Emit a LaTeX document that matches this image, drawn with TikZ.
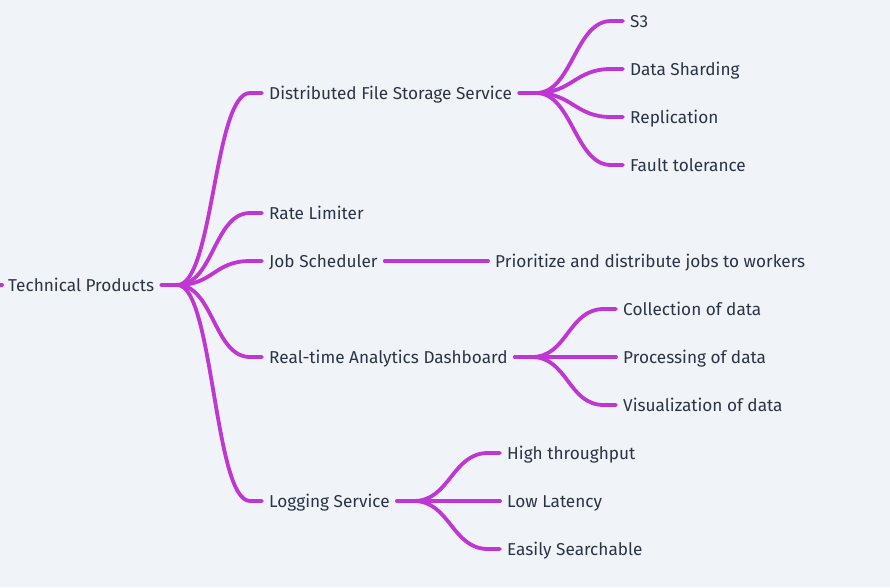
\documentclass[tikz,border=0pt]{standalone}
\usepackage{fontspec}
\setmainfont{Fira Sans}
\usetikzlibrary{positioning}
\definecolor{bgcol}{HTML}{F0F4F8}
\definecolor{linkcol}{HTML}{C036D2}
\definecolor{txtcol}{HTML}{2B3444}
\tikzset{
  topic/.style={anchor=west, inner xsep=7pt, inner ysep=2pt, text=txtcol,
    text height=12pt, text depth=0pt, font=\fontsize{17.2}{20}\selectfont},
  link/.style={draw=linkcol, line width=3.8pt, line cap=round},
}
% branch from a fork point to a child: #1 fork, #2 child
\newcommand\branch[2]{\draw[link] (#1) .. controls +(36,0) and +(-36,0) .. ([xshift=-12pt]#2.west) -- (#2.west);}

\begin{document}
\begin{tikzpicture}[x=1pt,y=-1pt]
			%%%%% START %%%%%
			\fill[bgcol] (0,0) rectangle (890,587);
			\useasboundingbox (0,0) rectangle (890,587);
			
			% root
			\node[topic] (root) at (1,285) {Technical Products};
			\coordinate (stub) at (-12,285);
			\draw[link] (stub) -- (2,285);
			\coordinate (rootfork) at ([xshift=16pt]root.east);
			\draw[link] (root.east) -- (rootfork);
			
			% first level
			\node[topic] (dfs) at (262,93) {Distributed File Storage Service};
			\node[topic] (rate) at (262,213) {Rate Limiter};
			\node[topic] (job) at (262,261) {Job Scheduler};
			\node[topic] (rta) at (262,357) {Real-time Analytics Dashboard};
			\node[topic] (logging) at (262,501) {Logging Service};
			\foreach \child in {dfs,rate,job,rta,logging}
				{\branch{rootfork}{\child}}
			
			% file storage
			\node[topic] (s3) at (623,21) {S3};
			\node[topic] (shard) at (623,69) {Data Sharding};
			\node[topic] (repl) at (623,117) {Replication};
			\node[topic] (fault) at (623,165) {Fault tolerance};
			\coordinate (dfsfork) at ([xshift=17pt]dfs.east);
			\draw[link] (dfs.east) -- (dfsfork);
			\foreach \child in {s3,shard,repl,fault}
				{\branch{dfsfork}{\child}}
			
			% job scheduler
			\node[topic] (prio) at (488,261) {Prioritize and distribute jobs to workers};
			\draw[link] (job.east) -- (prio.west);
			
			% analytics
			\node[topic] (collect) at (616,309) {Collection of data};
			\node[topic] (process) at (616,357) {Processing of data};
			\node[topic] (visual) at (616,405) {Visualization of data};
			\coordinate (rtafork) at ([xshift=17pt]rta.east);
			\draw[link] (rta.east) -- (rtafork);
			\foreach \child in {collect,process,visual}
				{\branch{rtafork}{\child}}
			
			% logging
			\node[topic] (high) at (500,453) {High throughput};
			\node[topic] (low) at (500,501) {Low Latency};
			\node[topic] (search) at (500,549) {Easily Searchable};
			\coordinate (logfork) at ([xshift=17pt]logging.east);
			\draw[link] (logging.east) -- (logfork);
			\foreach \child in {high,low,search}
				{\branch{logfork}{\child}}
			%%%%% END %%%%%
\end{tikzpicture}
\end{document}
